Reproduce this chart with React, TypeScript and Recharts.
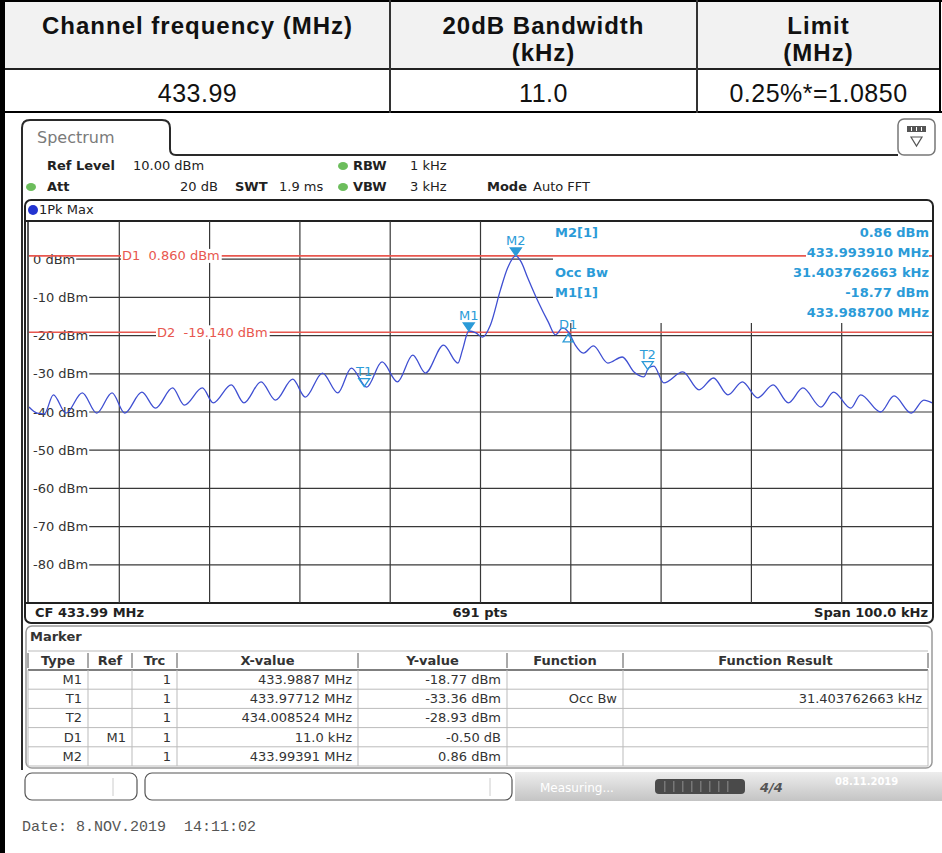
import React from 'react';
import {
  ComposedChart, Line, XAxis, YAxis, CartesianGrid, ReferenceLine, ReferenceDot,
} from 'recharts';

// ---------- data ----------
const START_MHZ = 433.94;
const STOP_MHZ = 434.04;
const REF_LEVEL = 10;
const BOTTOM_LEVEL = -90;
const FREQ_GRID = [433.95, 433.96, 433.97, 433.98, 433.99, 434.0, 434.01, 434.02, 434.03];
const LEVEL_GRID = [0, -10, -20, -30, -40, -50, -60, -70, -80];

// trace: offset from start frequency (kHz) and level (dBm)
const traceOffsetKHz = [
  0, 0.9, 1.7, 2.7, 4.1, 5.9, 7.5, 9.2, 10.6, 12.5,
  14.0, 15.9, 17.2, 19.2, 20.4, 22.4, 23.8, 25.7, 27.3, 29.2,
  30.6, 32.5, 34.2, 35.7, 37.4, 39.1, 40.8, 42.5, 43.9, 45.9,
  47.5, 48.0, 48.7, 49.5, 50.2, 51.1, 52.2, 53.0, 53.9, 54.5,
  55.2, 56.4, 57.5, 58.3, 59.1, 59.8, 60.5, 61.4, 62.5, 64.1,
  65.7, 67.0, 68.1, 68.6, 69.2, 70.3, 72.4, 74.2, 75.8, 77.4,
  79.0, 80.7, 82.4, 84.1, 85.7, 87.7, 89.1, 91.0, 92.1, 94.3,
  95.8, 97.7, 99.1, 100,
];
const traceDbm = [
  -38.7, -40.3, -40.5, -35.5, -40.3, -35.0, -40.3, -35.0, -40.3, -34.8,
  -39.0, -33.7, -38.2, -33.7, -37.6, -32.9, -37.6, -32.1, -36.9, -31.4,
  -36.1, -29.8, -35.0, -28.5, -33.5, -26.9, -32.1, -25.1, -29.8, -22.5,
  -27.2, -23.8, -18.8, -19.3, -20.4, -17.2, -8.1, -2.3, 0.86, -0.7,
  -4.7, -11.2, -16.4, -19.8, -18.0, -19.3, -22.5, -24.6, -22.7, -27.2,
  -25.6, -29.5, -30.8, -28.5, -28.0, -32.4, -29.5, -34.2, -31.1, -35.5,
  -32.1, -36.3, -32.9, -37.6, -33.7, -38.7, -34.8, -39.0, -35.5, -40.0,
  -35.8, -40.3, -36.9, -37.6,
];

const markerNames = ['M1', 'T1', 'T2', 'D1', 'M2'];
const markerMHz = [433.9887, 433.97712, 434.008524, 433.9997, 433.99391];
const markerDbm = [-18.77, -33.36, -28.93, -19.27, 0.86];

const displayLineNames = ['D1', 'D2'];
const displayLineDbm = [0.86, -19.14];

const tblHead = ['Type', 'Ref', 'Trc', 'X-value', 'Y-value', 'Function', 'Function Result'];
const tblType = ['M1', 'T1', 'T2', 'D1', 'M2'];
const tblRef = ['', '', '', 'M1', ''];
const tblTrc = ['1', '1', '1', '1', '1'];
const tblX = ['433.9887 MHz', '433.97712 MHz', '434.008524 MHz', '11.0 kHz', '433.99391 MHz'];
const tblY = ['-18.77 dBm', '-33.36 dBm', '-28.93 dBm', '-0.50 dB', '0.86 dBm'];
const tblFunc = ['', 'Occ Bw', '', '', ''];
const tblResult = ['', '31.403762663 kHz', '', '', ''];

const summaryHead = [['Channel frequency (MHz)'], ['20dB Bandwidth', '(kHz)'], ['Limit', '(MHz)']];
const summaryRow = ['433.99', '11.0', '0.25%*=1.0850'];

const infoLeft = ['M2[1]', '', 'Occ Bw', 'M1[1]', ''];
const infoRight = ['0.86 dBm', '433.993910 MHz', '31.403762663 kHz', '-18.77 dBm', '433.988700 MHz'];

// ---------- layout / style ----------
const PLOT = { left: 29, top: 221, width: 903, height: 382 };
const INFO_BOX = { left: 524, bottom: 102 }; // inside plot, px
const REF_LABEL_X = [93, 128];
const TBL_COLS = [28, 88, 132, 177, 358, 507, 623, 928];

const UI = '"DejaVu Sans", Verdana, sans-serif';
const GRID = '#383838';
const TRACE = '#3f4fd2';
const MARK = '#2b9bd8';
const RED = '#e8574f';

let ctx: CanvasRenderingContext2D | null = null;
function textW(s: string, font: string) {
  if (!ctx) ctx = document.createElement('canvas').getContext('2d');
  if (!ctx) return s.length * 8;
  ctx.font = font;
  return ctx.measureText(s).width;
}

function levelAt(y: number) {
  return Math.round(REF_LEVEL - (y / PLOT.height) * (REF_LEVEL - BOTTOM_LEVEL));
}

// horizontal grid: "xx dBm" label at the left, line starts right after it
const hLine = (p: any) => {
  const level = levelAt(p.y1);
  if (!LEVEL_GRID.includes(level)) return <g key={`h${p.index}`} />;
  const label = `${level} dBm`;
  const x1 = 4 + textW(label, `13px ${UI}`) + 1;
  const x2 = p.y1 < INFO_BOX.bottom ? INFO_BOX.left : p.x2;
  return (
    <g key={`h${p.index}`}>
      <text x={4} y={p.y1 + 4.5} fill="#333" fontSize={13} fontFamily={UI}>{label}</text>
      <line x1={x1} x2={x2} y1={p.y1} y2={p.y2} stroke={GRID} strokeWidth={1.2} />
    </g>
  );
};

const vLine = (p: any) => {
  if (p.x1 < 2 || p.x1 > PLOT.width - 2) return <g key={`v${p.index}`} />;
  const y1 = p.x1 > INFO_BOX.left ? INFO_BOX.bottom : p.y1;
  return <line key={`v${p.index}`} x1={p.x1} x2={p.x2} y1={y1} y2={p.y2} stroke={GRID} strokeWidth={1.2} />;
};

const NoTick = () => <g />;

function RefLabel({ viewBox, text, dx }: any) {
  const y = viewBox?.y ?? 0;
  const w = textW(text, `13px ${UI}`);
  return (
    <g>
      <rect x={dx - 1} y={y - 7} width={w + 3} height={14} fill="#fff" />
      <text x={dx} y={y + 4.5} fill={RED} fontSize={13} fontFamily={UI} style={{ whiteSpace: 'pre' }}>{text}</text>
    </g>
  );
}

function MarkerGlyph({ cx, cy, name }: any) {
  const kind = name[0];
  const tri = kind === 'D'
    ? `${cx},${cy + 1} ${cx - 5},${cy + 9} ${cx + 5},${cy + 9}`
    : `${cx - 5.5},${cy - 8} ${cx + 5.5},${cy - 8} ${cx},${cy}`;
  const labelY = kind === 'D' ? cy - 4 : cy - 11;
  return (
    <g>
      <polygon points={tri} fill={kind === 'M' ? MARK : 'none'} stroke={MARK} strokeWidth={1.3} />
      <text x={cx} y={labelY} textAnchor="middle" fill={MARK} fontSize={13} fontFamily={UI}>{name}</text>
    </g>
  );
}

function Spectrum() {
  const data = traceOffsetKHz.map((k, i) => ({ f: START_MHZ + k / 1000, dbm: traceDbm[i] }));
  return (
    <ComposedChart width={PLOT.width} height={PLOT.height} data={data} margin={{ top: 0, right: 0, bottom: 0, left: 0 }}>
      <CartesianGrid horizontal={hLine} vertical={vLine} />
      <XAxis type="number" dataKey="f" domain={[START_MHZ, STOP_MHZ]} ticks={FREQ_GRID} height={0} interval={0}
        tick={NoTick} axisLine={false} tickLine={false} allowDataOverflow />
      <YAxis type="number" domain={[BOTTOM_LEVEL, REF_LEVEL]} ticks={LEVEL_GRID} width={0} interval={0}
        tick={NoTick} axisLine={false} tickLine={false} allowDataOverflow />
      {displayLineNames.map((n, i) => (
        <ReferenceLine key={n} y={displayLineDbm[i]} stroke={RED} strokeWidth={1.6}
          label={(p: any) => <RefLabel viewBox={p.viewBox} dx={REF_LABEL_X[i]}
            text={`${n}  ${displayLineDbm[i].toFixed(3)} dBm`} />} />
      ))}
      <Line dataKey="dbm" type="monotone" stroke={TRACE} strokeWidth={1.3} dot={false} isAnimationActive={false} />
      {markerNames.map((n, i) => (
        <ReferenceDot key={n} x={markerMHz[i]} y={markerDbm[i]} r={0}
          shape={(p: any) => <MarkerGlyph cx={p.cx} cy={p.cy} name={n} />} />
      ))}
    </ComposedChart>
  );
}

const abs = (left: number, top: number, extra: React.CSSProperties = {}): React.CSSProperties => ({
  position: 'absolute', left, top, whiteSpace: 'pre', ...extra,
});

function SummaryTable() {
  const edges = [5, 390, 697, 940];
  const font = '"Liberation Sans", Arial, sans-serif';
  return (
    <>
      <div style={abs(5, 2, { width: 935, height: 67, background: '#f2f2f2' })} />
      {summaryHead.map((lines, i) => (
        <div key={i} style={abs(edges[i], 12, {
          width: edges[i + 1] - edges[i], textAlign: 'center', fontFamily: font,
          fontWeight: 'bold', fontSize: 24, lineHeight: '27px', letterSpacing: 1, color: '#111',
        })}>
          {lines.map(l => <div key={l}>{l}</div>)}
        </div>
      ))}
      {summaryRow.map((v, i) => (
        <div key={v} style={abs(edges[i], 78, {
          width: edges[i + 1] - edges[i], textAlign: 'center', fontFamily: font,
          fontSize: 25, lineHeight: '30px', letterSpacing: 0.5, color: '#111',
        })}>{v}</div>
      ))}
    </>
  );
}

function Frames() {
  return (
    <svg width={942} height={853} style={{ position: 'absolute', left: 0, top: 0 }}>
      <defs>
        <linearGradient id="statusbar" x1="0" y1="0" x2="0" y2="1">
          <stop offset="0%" stopColor="#ededed" />
          <stop offset="100%" stopColor="#c4c4c4" />
        </linearGradient>
      </defs>
      {/* summary table rules */}
      <rect x={0} y={0} width={5} height={853} fill="#000" />
      <rect x={0} y={0} width={942} height={2} fill="#000" />
      <rect x={5} y={68} width={936} height={2} fill="#222" />
      <rect x={0} y={111} width={942} height={2} fill="#000" />
      <rect x={389} y={0} width={2} height={113} fill="#333" />
      <rect x={696} y={0} width={2} height={113} fill="#333" />
      <rect x={939} y={0} width={2} height={113} fill="#000" />
      {/* spectrum tab */}
      <path d="M 22 770 L 22 128 Q 22 120 30 120 L 162 120 Q 170 120 170 128 L 170 149 Q 170 155 176 155 L 898 155"
        fill="none" stroke="#2a2a2a" strokeWidth={2} />
      <rect x={898} y={119} width={37} height={36} rx={6} fill="#fff" stroke="#777" strokeWidth={1.5} />
      <rect x={907} y={126} width={19} height={6} fill="#555" />
      <rect x={911} y={127} width={1} height={4} fill="#fff" />
      <rect x={916} y={127} width={1} height={4} fill="#fff" />
      <rect x={921} y={127} width={1} height={4} fill="#fff" />
      <polygon points="911,137 922,137 916.5,146" fill="none" stroke="#555" strokeWidth={1.2} />
      {/* status lights */}
      <ellipse cx={343} cy={166} rx={5} ry={4} fill="#6cbd5c" />
      <ellipse cx={31} cy={187} rx={5} ry={4} fill="#6cbd5c" />
      <ellipse cx={343} cy={187} rx={5} ry={4} fill="#6cbd5c" />
      {/* diagram frame */}
      <rect x={25} y={200} width={908} height={423} rx={6} fill="none" stroke="#222" strokeWidth={2} />
      <line x1={25} x2={933} y1={221} y2={221} stroke="#222" strokeWidth={2} />
      <line x1={25} x2={933} y1={603} y2={603} stroke="#222" strokeWidth={2} />
      <line x1={28} x2={28} y1={221} y2={603} stroke="#222" strokeWidth={1.5} />
      <circle cx={33} cy={210} r={5} fill="#2233d0" />
      {/* marker table frame */}
      <rect x={26} y={626} width={906} height={142} rx={6} fill="none" stroke="#9a9a9a" strokeWidth={1.5} />
      {/* status bar */}
      <rect x={25} y={773} width={112} height={27} rx={7} fill="#fff" stroke="#555" strokeWidth={1.2} />
      <line x1={113} x2={113} y1={778} y2={796} stroke="#ccc" />
      <rect x={145} y={773} width={367} height={27} rx={7} fill="#fff" stroke="#555" strokeWidth={1.2} />
      <line x1={490} x2={490} y1={778} y2={796} stroke="#ccc" />
      <rect x={515} y={772} width={427} height={29} fill="url(#statusbar)" />
      <rect x={655} y={779} width={90} height={15} rx={4} fill="#4a4a4a" />
      {[0, 1, 2, 3, 4, 5, 6, 7].map(i => (
        <rect key={i} x={664 + i * 9} y={781} width={1.5} height={11} fill="#777" />
      ))}
      <text x={760} y={792} fill="#555" fontSize={13} fontStyle="italic" fontWeight="bold" fontFamily={UI}>4/4</text>
      <text x={540} y={792} fill="#fff" fontSize={12} fontFamily={UI}>Measuring...</text>
      <text x={835} y={785} fill="#fff" fontSize={10} fontWeight="bold" fontFamily={UI}>08.11.2019</text>
    </svg>
  );
}

function HeaderInfo() {
  const t = (x: number, y: number, s: string, bold = false, extra: React.CSSProperties = {}) => (
    <span key={`${s}${x}${y}`} style={abs(x, y - 8, { fontSize: 13, lineHeight: '16px', fontWeight: bold ? 'bold' : 'normal', color: '#222', ...extra })}>{s}</span>
  );
  return (
    <>
      {t(37, 138, 'Spectrum', false, { fontSize: 16, lineHeight: '18px', color: '#7a7a7a', top: 129 })}
      {t(47, 166, 'Ref Level', true)}
      {t(133, 166, '10.00 dBm')}
      {t(353, 166, 'RBW', true)}
      {t(410, 166, '1 kHz')}
      {t(47, 187, 'Att', true)}
      {t(180, 187, '20 dB')}
      {t(235, 187, 'SWT', true)}
      {t(279, 187, '1.9 ms')}
      {t(353, 187, 'VBW', true)}
      {t(410, 187, '3 kHz')}
      {t(487, 187, 'Mode', true)}
      {t(533, 187, 'Auto FFT')}
      {t(39, 210, '1Pk Max')}
      {t(35, 613, 'CF 433.99 MHz', true)}
      <span style={abs(380, 605, { width: 200, textAlign: 'center', fontSize: 13, lineHeight: '16px', fontWeight: 'bold', color: '#222' })}>691 pts</span>
      <span style={abs(700, 605, { width: 228, textAlign: 'right', fontSize: 13, lineHeight: '16px', fontWeight: 'bold', color: '#222' })}>Span 100.0 kHz</span>
      {t(30, 637, 'Marker', true, { color: '#333' })}
      <span style={abs(22, 820, { fontFamily: '"Liberation Mono", "Courier New", monospace', fontSize: 15, lineHeight: '16px', color: '#555' })}>Date: 8.NOV.2019  14:11:02</span>
    </>
  );
}

function InfoOverlay() {
  return (
    <>
      {infoLeft.map((s, i) => s && (
        <span key={`l${i}`} style={abs(555, 225 + i * 20, { fontSize: 13, lineHeight: '16px', fontWeight: 'bold', color: MARK })}>{s}</span>
      ))}
      {infoRight.map((s, i) => (
        <div key={`r${i}`} style={abs(700, 225 + i * 20, { width: 229, textAlign: 'right', fontSize: 13, lineHeight: '16px', fontWeight: 'bold', color: MARK })}>
          <span style={{ background: '#fff', paddingLeft: 1 }}>{s}</span>
        </div>
      ))}
    </>
  );
}

function MarkerTable() {
  const cols = [tblType, tblRef, tblTrc, tblX, tblY, tblFunc, tblResult];
  const rowTop = (r: number) => 670 + r * 19.2;
  return (
    <>
      <svg width={942} height={853} style={{ position: 'absolute', left: 0, top: 0 }}>
        <line x1={TBL_COLS[0]} x2={TBL_COLS[7]} y1={651} y2={651} stroke="#bbb" />
        <line x1={TBL_COLS[0]} x2={TBL_COLS[7]} y1={670} y2={670} stroke="#555" strokeWidth={1.5} />
        {tblType.map((_, r) => (
          <line key={r} x1={TBL_COLS[0]} x2={TBL_COLS[7]} y1={rowTop(r + 1)} y2={rowTop(r + 1)} stroke="#bbb" />
        ))}
        {TBL_COLS.map((x, i) => (
          <g key={i}>
            <line x1={x} x2={x} y1={653} y2={668} stroke="#555" />
            <line x1={x} x2={x} y1={670} y2={rowTop(5)} stroke="#bbb" />
          </g>
        ))}
      </svg>
      {tblHead.map((h, c) => (
        <span key={h} style={abs(TBL_COLS[c], 652, {
          width: TBL_COLS[c + 1] - TBL_COLS[c], textAlign: 'center', fontSize: 13, lineHeight: '17px', fontWeight: 'bold', color: '#333',
        })}>{h}</span>
      ))}
      {cols.map((col, c) => col.map((v, r) => v && (
        <span key={`${c}-${r}`} style={abs(TBL_COLS[c], rowTop(r) + 1, {
          width: TBL_COLS[c + 1] - TBL_COLS[c] - 6, textAlign: 'right', fontSize: 13, lineHeight: '18px', color: '#333',
        })}>{v}</span>
      )))}
    </>
  );
}

export default function App() {
  return (
    <div style={{ position: 'absolute', left: 0, top: 0, width: 942, height: 853, background: '#fff', overflow: 'hidden', fontFamily: UI }}>
      <SummaryTable />
      <Frames />
      <HeaderInfo />
      <div style={{ position: 'absolute', left: PLOT.left, top: PLOT.top }}>
        <Spectrum />
      </div>
      <InfoOverlay />
      <MarkerTable />
    </div>
  );
}
